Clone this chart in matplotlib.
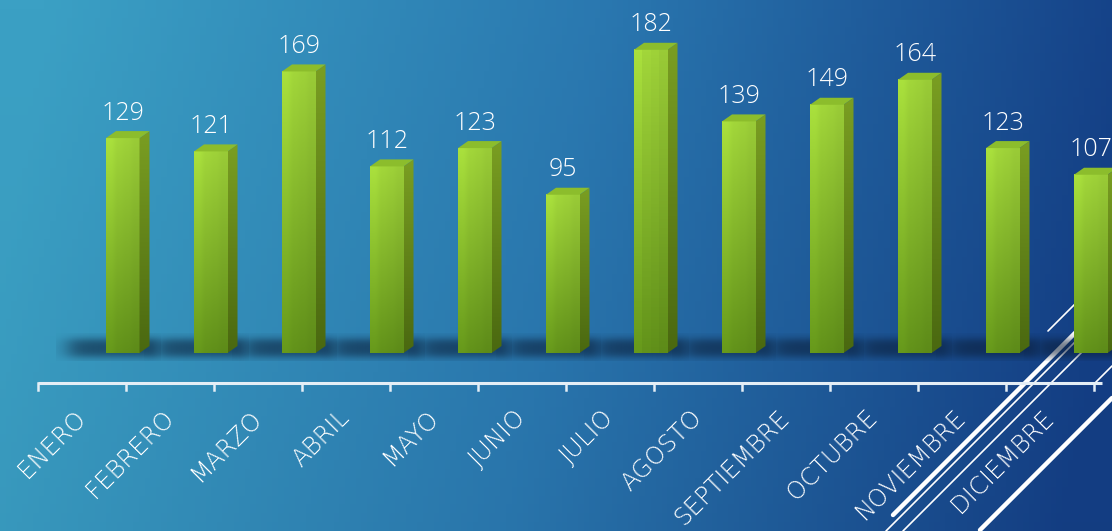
import numpy as np
import matplotlib
matplotlib.use("Agg")
import matplotlib.pyplot as plt
from matplotlib.patches import Polygon
from matplotlib.colors import to_rgb

months = ["ENERO", "FEBRERO", "MARZO", "ABRIL", "MAYO", "JUNIO", "JULIO",
          "AGOSTO", "SEPTIEMBRE", "OCTUBRE", "NOVIEMBRE", "DICIEMBRE"]
values = [129, 121, 169, 112, 123, 95, 182, 139, 149, 164, 123, 107]

W, H = 1112, 531
fig = plt.figure(figsize=(W / 100, H / 100), dpi=100)
ax = fig.add_axes([0, 0, 1, 1])

# scale: one category = 88 px, one unit = 1.666 px
PXX = 88.0
PXY = 1.666
x_left = -82 / PXX
x_right = (W - 82) / PXX
y_bot = (353 - H) / PXY
y_top = 353 / PXY
ax.set_xlim(x_left, x_right)
ax.set_ylim(y_bot, y_top)
ax.axis("off")

def px2d(x, y):
    """pixel (from top-left) -> data"""
    return (x - 82) / PXX, (353 - y) / PXY

# background gradient
ny, nx = 60, 200
gx = np.linspace(0, 1, nx)[None, :]
gy = np.linspace(0, 1, ny)[:, None]
tl = np.array(to_rgb("#3ba0c4"))
tm = np.array(to_rgb("#2a78b0"))
tr = np.array(to_rgb("#143f86"))
t = np.clip(gx + 0.08 * (gy - 0.5), 0, 1)
img = np.zeros((ny, nx, 3))
for c in range(3):
    img[:, :, c] = np.where(t < 0.5, tl[c] + (tm[c] - tl[c]) * (t / 0.5),
                            tm[c] + (tr[c] - tm[c]) * ((t - 0.5) / 0.5))
img = img * (1 - 0.03 * gy)[:, :, None]
ax.imshow(img, extent=[x_left, x_right, y_bot, y_top], aspect="auto", zorder=0, origin="upper")

# decorative lines (template decoration, pixel coordinates)
deco = [((893, 515), (1076, 332), 3.2),
        ((886, 531), (1076, 341), 1.2),
        ((903, 531), (1082, 352), 1.2),
        ((1048, 331), (1075, 304), 1.2),
        ((1095, 383), (1112, 366), 1.2),
        ((980, 530), (1112, 398), 3.2)]
for (p0, p1, lw) in deco:
    a = px2d(*p0)
    b = px2d(*p1)
    ax.plot([a[0], b[0]], [a[1], b[1]], color="white", lw=lw, solid_capstyle="round", zorder=2)

bar_off = 24 / PXX
bar_w = 33.5 / PXX
side_dx = 10 / PXX
side_dy = 7 / PXY

front_grad = np.linspace(0, 1, 100)[:, None]
c_top = np.array(to_rgb("#a2d63a"))
c_bot = np.array(to_rgb("#62921a"))
front_img = (c_top[None, None, :] * (1 - front_grad[:, :, None]) + c_bot[None, None, :] * front_grad[:, :, None])
front_img = np.repeat(front_img, 4, axis=1)
hshade = np.array([1.05, 1.0, 0.98, 0.95])[None, :, None]
front_img = np.clip(front_img * hshade, 0, 1)
s_top = np.array(to_rgb("#7a9e22"))
s_bot = np.array(to_rgb("#4a6810"))
side_img = (s_top[None, None, :] * (1 - front_grad[:, :, None]) + s_bot[None, None, :] * front_grad[:, :, None])

# soft shadow sprite (pixels): x from -50 to bar right + 10, y from -8 to +20 above base
sx = np.linspace(-50, 54, 104)
sy = np.linspace(20, -8, 28)
def smooth(z):
    return 1 / (1 + np.exp(-z))
ax_prof = smooth((sx + 38) / 6) * smooth((50 - sx) / 3)
ay_prof = smooth((14 - sy) / 2.5) * smooth((sy + 4) / 2.5)
shadow_alpha = 0.6 * ay_prof[:, None] * ax_prof[None, :]
shadow_rgba = np.zeros((len(sy), len(sx), 4))
shadow_rgba[:, :, :3] = to_rgb("#0a1c36")
shadow_rgba[:, :, 3] = shadow_alpha

for i, v in enumerate(values):
    x0 = i + bar_off
    ax.imshow(shadow_rgba, extent=[x0 - 50 / PXX, x0 + 54 / PXX, -8 / PXY, 20 / PXY],
              aspect="auto", zorder=3, origin="upper", interpolation="bilinear")
    # front face
    ax.imshow(front_img, extent=[x0, x0 + bar_w, 0, v], aspect="auto", zorder=5, origin="upper")
    # side face
    side = Polygon([(x0 + bar_w, 0), (x0 + bar_w + side_dx, side_dy),
                    (x0 + bar_w + side_dx, v + side_dy), (x0 + bar_w, v)], closed=True,
                   facecolor="none", edgecolor="none", zorder=5)
    ax.add_patch(side)
    im = ax.imshow(side_img, extent=[x0 + bar_w, x0 + bar_w + side_dx, 0, v + side_dy],
                   aspect="auto", zorder=5, origin="upper")
    im.set_clip_path(side)
    # top face
    topf = Polygon([(x0, v), (x0 + bar_w, v), (x0 + bar_w + side_dx, v + side_dy),
                    (x0 + side_dx, v + side_dy)], closed=True,
                   facecolor="#8cbd2c", edgecolor="none", zorder=6)
    ax.add_patch(topf)
    # value label
    ax.text(x0 + bar_w / 2, v + 11, str(v), ha="center", va="baseline",
            fontsize=18, color="white", family=["Open Sans", "DejaVu Sans"],
            fontweight="light", zorder=7)

# axis line and ticks
y_axis = px2d(0, 383)[1]
tick_len = 7 / PXY
ax.plot([-0.5, px2d(1102, 0)[0]], [y_axis, y_axis], color="#e4eef6", lw=2.2, zorder=4,
        solid_capstyle="butt")
for k in range(len(months) + 1):
    ax.plot([k - 0.5, k - 0.5], [y_axis, y_axis - tick_len], color="#e4eef6", lw=1.8, zorder=4)

y_lab = px2d(0, 414)[1]
for i, m in enumerate(months):
    ax.text(i, y_lab, m, rotation=45, rotation_mode="anchor", ha="right", va="center",
            fontsize=17.5, color="white", family=["DejaVu Sans"], fontweight=200, zorder=7)

fig.savefig("out.png", dpi=100)
